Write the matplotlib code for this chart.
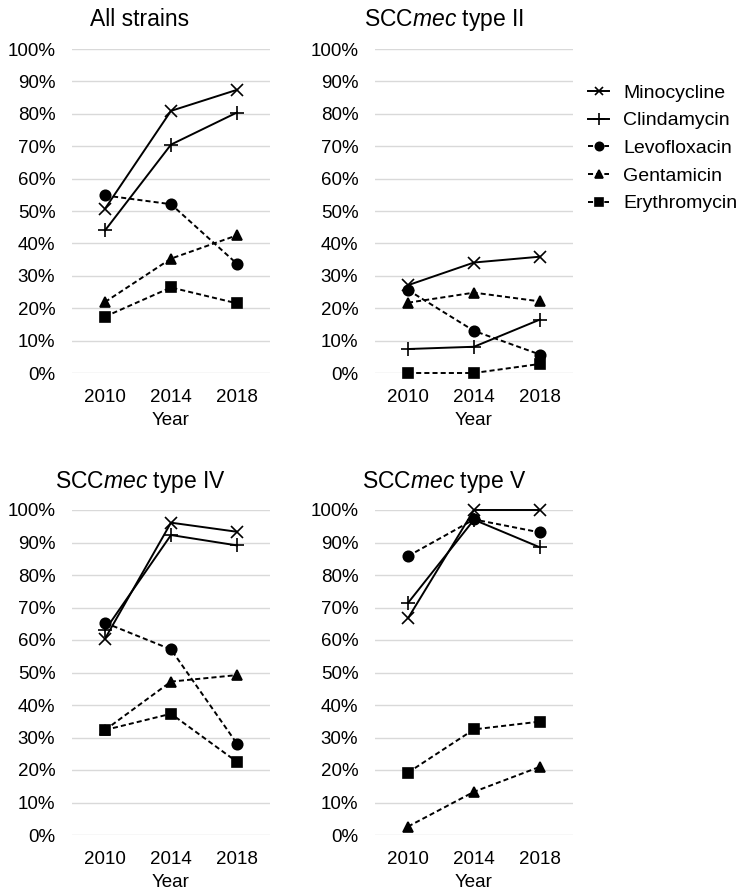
import matplotlib
matplotlib.use("Agg")
import matplotlib.pyplot as plt
from matplotlib.ticker import PercentFormatter

plt.rcParams['font.family'] = ['Liberation Sans', 'DejaVu Sans']
plt.rcParams['mathtext.fontset'] = 'custom'
plt.rcParams['mathtext.rm'] = 'Liberation Sans'
plt.rcParams['mathtext.it'] = 'Liberation Sans:italic'

years = ['2010', '2014', '2018']
drugs = ['Minocycline', 'Clindamycin', 'Levofloxacin', 'Gentamicin', 'Erythromycin']

# resistance rates (%)
all_strains = {
    'Minocycline': [50.7, 80.9, 87.4],
    'Clindamycin': [44.0, 70.5, 80.4],
    'Levofloxacin': [54.8, 52.1, 33.7],
    'Gentamicin': [21.9, 35.3, 42.5],
    'Erythromycin': [17.4, 26.4, 21.5],
}
type_ii = {
    'Minocycline': [27.1, 34.1, 35.9],
    'Clindamycin': [7.4, 8.1, 16.5],
    'Levofloxacin': [25.6, 13.0, 5.7],
    'Gentamicin': [21.7, 24.8, 22.1],
    'Erythromycin': [0.0, 0.0, 2.8],
}
type_iv = {
    'Minocycline': [60.4, 96.1, 93.3],
    'Clindamycin': [63.0, 92.3, 89.1],
    'Levofloxacin': [65.3, 57.1, 28.1],
    'Gentamicin': [32.3, 47.2, 49.2],
    'Erythromycin': [32.3, 37.3, 22.5],
}
type_v = {
    'Minocycline': [66.7, 100.0, 100.0],
    'Clindamycin': [71.4, 97.0, 88.5],
    'Levofloxacin': [85.8, 97.1, 93.1],
    'Gentamicin': [2.6, 13.3, 21.0],
    'Erythromycin': [19.2, 32.5, 34.9],
}

panels = [
    ('All strains', all_strains),
    ('SCC$\\it{mec}$ type II', type_ii),
    ('SCC$\\it{mec}$ type IV', type_iv),
    ('SCC$\\it{mec}$ type V', type_v),
]

dash = (0, (2.6, 1.6))
styles = {
    'Minocycline': dict(marker='x', ms=8, ls='-'),
    'Clindamycin': dict(marker='+', ms=10, ls='-'),
    'Levofloxacin': dict(marker='o', ms=7.5, ls=dash),
    'Gentamicin': dict(marker='^', ms=7.5, ls=dash),
    'Erythromycin': dict(marker='s', ms=7.5, ls=dash),
}

W, H = 748, 891
fig = plt.figure(figsize=(W / 100, H / 100), dpi=100)

# axes boxes in pixels: left, top, right, bottom
boxes = [(72, 49, 270, 373), (375, 49, 573, 373),
         (72, 510, 270, 835), (375, 510, 573, 835)]
title_pos = [(140, 20), (444, 20), (140, 482), (444, 482)]

handles = []
for (title, data), (l, t, r, b), (tx, ty) in zip(panels, boxes, title_pos):
    ax = fig.add_axes([l / W, 1 - b / H, (r - l) / W, (b - t) / H])
    xs = range(len(years))
    for d in drugs:
        st = styles[d]
        ln, = ax.plot(xs, data[d], color='black', lw=1.4, ls=st['ls'],
                      marker=st['marker'], ms=st['ms'], mew=1.2,
                      label=d, clip_on=False, zorder=3)
        if len(handles) < len(drugs):
            handles.append(ln)
    ax.set_xlim(-0.5, 2.5)
    ax.set_ylim(0, 100)
    ax.set_yticks(range(0, 101, 10))
    ax.yaxis.set_major_formatter(PercentFormatter(decimals=0))
    ax.set_xticks(list(xs))
    ax.set_xticklabels(years)
    ax.grid(axis='y', color='#d9d9d9', lw=1.0)
    ax.set_axisbelow(True)
    for s in ax.spines.values():
        s.set_visible(False)
    ax.tick_params(axis='both', length=0, labelsize=13.5, colors='#000000')
    ax.tick_params(axis='y', pad=12)
    ax.tick_params(axis='x', pad=11.5)
    ax.set_xlabel('Year', fontsize=13.5, labelpad=4)
    fig.text(tx / W, 1 - ty / H, title, fontsize=16.5, ha='center', va='center')

fig.legend(handles=handles, labels=drugs, loc='upper left',
           bbox_to_anchor=(588 / W, 1 - 84 / H), frameon=False,
           fontsize=14, handlelength=1.1, handletextpad=0.7,
           labelspacing=0.52, borderpad=0, borderaxespad=0, markerscale=0.8)

fig.savefig('out.png', dpi=100)
